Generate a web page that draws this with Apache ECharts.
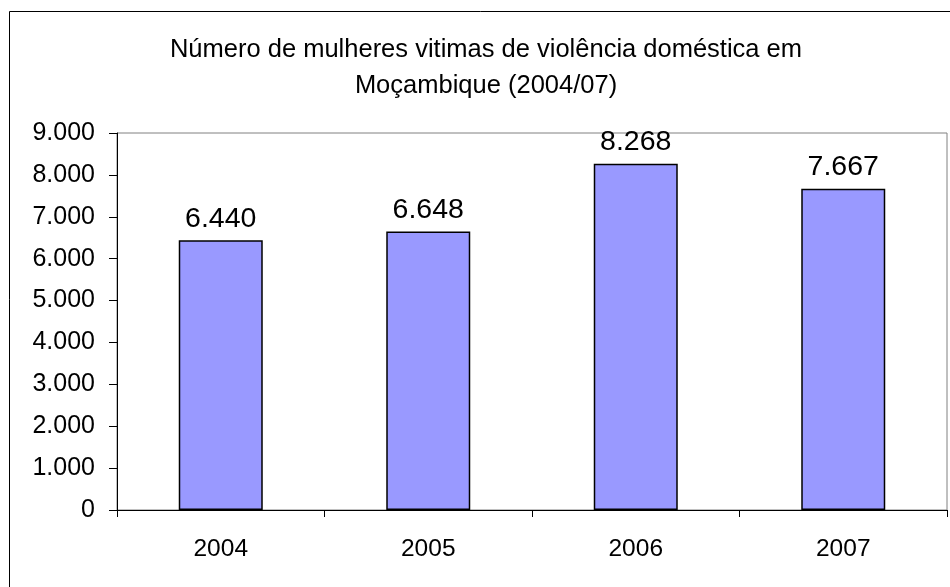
<!DOCTYPE html>
<html>
<head>
<meta charset="utf-8">
<script src="https://cdn.jsdelivr.net/npm/echarts@6/dist/echarts.min.js"></script>
<style>
  html, body { margin: 0; padding: 0; background: #fff; }
  #chart { width: 950px; height: 587px; }
</style>
</head>
<body>
<div id="chart"></div>
<script>
const titleLines = ['Número de mulheres vitimas de violência doméstica em', 'Moçambique (2004/07)']
const anos = ['2004', '2005', '2006', '2007']
const vitimas = [6440, 6648, 8268, 7667]

// 6440 -> 6.440
const fmt = v => String(v).replace(/\B(?=(\d{3})+(?!\d))/g, '.')

const font = '"Liberation Sans", Arial, sans-serif'

const chart = echarts.init(document.getElementById('chart'))
chart.setOption({
  animation: false,
  backgroundColor: '#fff',
  textStyle: { fontFamily: font },
  title: {
    text: titleLines.join('\n'),
    left: 481,
    top: 27,
    textAlign: 'center',
    textStyle: {
      fontFamily: font,
      fontSize: 25.5,
      fontWeight: 'normal',
      color: '#000',
      lineHeight: 36
    }
  },
  graphic: [
    {
      type: 'rect',
      shape: { x: 9.5, y: 11.5, width: 980, height: 620 },
      style: { fill: null, stroke: '#000', lineWidth: 1 },
      silent: true
    }
  ],
  grid: {
    left: 117,
    top: 133,
    right: 3,
    bottom: 77,
    show: true,
    borderColor: '#808080',
    borderWidth: 1
  },
  xAxis: {
    type: 'category',
    data: anos,
    axisLine: { lineStyle: { color: '#000', width: 1 } },
    axisTick: { show: true, length: 7, lineStyle: { color: '#000' } },
    axisLabel: { fontSize: 24.5, color: '#000', margin: 27, fontFamily: font }
  },
  yAxis: {
    type: 'value',
    min: 0,
    max: 9000,
    interval: 1000,
    axisLine: { show: true, lineStyle: { color: '#000', width: 1 } },
    axisTick: { show: true, length: 8, lineStyle: { color: '#000' } },
    splitLine: { show: false },
    axisLabel: {
      fontSize: 25,
      color: '#000',
      margin: 22,
      fontFamily: font,
      formatter: v => fmt(v)
    }
  },
  series: [
    {
      type: 'bar',
      data: vitimas,
      barWidth: 84,
      itemStyle: {
        color: '#9999FF',
        borderColor: '#000',
        borderWidth: 1.5
      },
      label: {
        show: true,
        position: 'top',
        distance: 7,
        fontSize: 28.5,
        color: '#000',
        fontFamily: font,
        formatter: p => fmt(p.value)
      }
    }
  ]
})
</script>
</body>
</html>
